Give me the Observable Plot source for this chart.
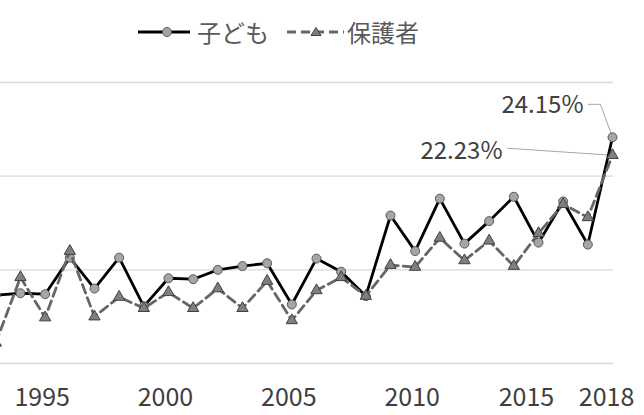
<!DOCTYPE html>
<html>
<head>
<meta charset="utf-8">
<script src="https://cdn.jsdelivr.net/npm/d3@7"></script>
<script src="https://cdn.jsdelivr.net/npm/@observablehq/plot@0.6"></script>
<style>
  html, body { margin: 0; padding: 0; background: #fff; }
  body { width: 644px; height: 415px; overflow: hidden; font-family: "Noto Sans CJK JP", "Noto Sans", sans-serif; }
  #legend { position: relative; height: 58px; width: 644px; }
  #legend .row { position: absolute; left: 138px; top: 14px; display: flex; align-items: center; height: 36px; }
  #legend span { font-size: 24px; color: #595959; line-height: 36px; }
  #chart svg { display: block; }
</style>
</head>
<body>
<div id="legend">
  <div class="row">
    <svg width="52" height="20"><line x1="0" y1="10" x2="52" y2="10" stroke="#000" stroke-width="3"/><circle cx="29" cy="10" r="4.5" fill="#a5a5a5" stroke="#595959" stroke-width="1"/></svg>
    <span style="margin-left:7px">子ども</span>
    <svg width="57" height="20" style="margin-left:18px"><line x1="0" y1="10" x2="57" y2="10" stroke="#666" stroke-width="3" stroke-dasharray="9,5"/><path d="M29,5.5 L34,13.5 L24,13.5 Z" fill="#7f7f7f" stroke="#404040" stroke-width="1"/></svg>
    <span style="margin-left:3px">保護者</span>
  </div>
</div>
<div id="chart"></div>
<script>
const years  = [1993,1994,1995,1996,1997,1998,1999,2000,2001,2002,2003,2004,2005,2006,2007,2008,2009,2010,2011,2012,2013,2014,2015,2016,2017,2018];
const child  = [7.3,7.5,7.4,11.3,8.0,11.3,6.1,9.1,9.0,10.0,10.4,10.7,6.3,11.2,9.8,7.2,15.8,12.0,17.6,12.8,15.2,17.8,12.9,17.3,12.7,24.15];
const parent = [2.2,9.2,4.9,12.0,5.0,7.1,5.9,7.6,5.9,8.0,5.9,8.8,4.6,7.8,9.2,7.2,10.5,10.3,13.4,11.0,13.1,10.4,13.9,17.0,15.6,22.23];
const seriesNames = ["子ども","保護者"];
const xTicks = [1995,2000,2005,2010,2015,2018];
const yTicks = [0,10,20,30];
const childLabel = "24.15%";
const parentLabel = "22.23%";

const childData = years.map((year,i) => ({year, value: child[i], series: seriesNames[0]}));
const parentData = years.map((year,i) => ({year, value: parent[i], series: seriesNames[1]}));
const lastChild = [childData[childData.length-1]];
const lastParent = [parentData[parentData.length-1]];

// leader lines expressed as offsets from the final data point (in data units)
const leaderChild = [
  {year: lastChild[0].year - 0.99, value: lastChild[0].value + 3.52},
  {year: lastChild[0].year - 0.49, value: lastChild[0].value + 3.52},
  {year: lastChild[0].year, value: lastChild[0].value}
];
const leaderParent = [
  {year: lastParent[0].year - 4.26, value: lastParent[0].value + 0.75},
  {year: lastParent[0].year, value: lastParent[0].value}
];

const tickOpts = {tickSize: 0, tickPadding: 25, fontSize: 25, fill: "#404040", tickFormat: d => String(d), label: null};

const chart = Plot.plot({
  width: 644,
  height: 357,
  marginLeft: 0,
  marginRight: 31,
  marginTop: 24,
  marginBottom: 52,
  x: {domain: [1993, 2018], range: [-4.7, 612]},
  y: {domain: [0, 30], axis: null},
  style: {fontFamily: '"Noto Sans CJK JP", "Noto Sans", sans-serif', background: "#fff"},
  marks: [
    Plot.ruleY(yTicks, {stroke: "#d9d9d9", strokeWidth: 1.3}),
    Plot.axisX(xTicks.slice(0, 4), {...tickOpts, dx: -3}),
    Plot.axisX(xTicks.slice(4, 5), {...tickOpts, dx: -12}),
    Plot.axisX(xTicks.slice(5), {...tickOpts, dx: -6}),
    Plot.line(leaderChild, {x: "year", y: "value", stroke: "#a6a6a6", strokeWidth: 1}),
    Plot.line(leaderParent, {x: "year", y: "value", stroke: "#a6a6a6", strokeWidth: 1}),
    Plot.line(childData, {x: "year", y: "value", stroke: "#000", strokeWidth: 2.8}),
    Plot.dot(childData, {x: "year", y: "value", r: 4.5, fill: "#a5a5a5", stroke: "#595959", strokeWidth: 1}),
    Plot.line(parentData, {x: "year", y: "value", stroke: "#666", strokeWidth: 2.8, strokeDasharray: "9,5"}),
    Plot.dot(parentData, {x: "year", y: "value", symbol: "triangle", r: 4.2, fill: "#7f7f7f", stroke: "#404040", strokeWidth: 1}),
    Plot.text(lastChild, {x: "year", y: "value", text: () => childLabel, textAnchor: "end", dx: -29, dy: -32, fontSize: 24, fill: "#404040"}),
    Plot.text(lastParent, {x: "year", y: "value", text: () => parentLabel, textAnchor: "end", dx: -110, dy: -4, fontSize: 24, fill: "#404040"})
  ]
});
document.getElementById("chart").appendChild(chart);
</script>
</body>
</html>
